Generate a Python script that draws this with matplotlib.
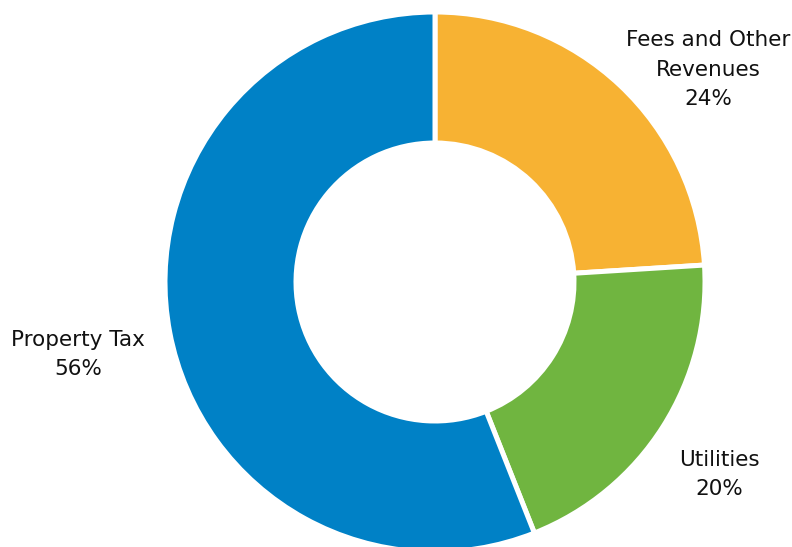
import matplotlib.pyplot as plt

labels = ['Fees and Other\nRevenues', 'Utilities', 'Property Tax']
shares = [24, 20, 56]
colors = ['#F7B233', '#70B540', '#0081C6']

# label anchors in pixels: centre x, baseline of the last line (from top)
label_pos = [(708, 105), (719, 495), (78, 375)]

W, H = 792, 547
fig = plt.figure(figsize=(W / 100, H / 100), dpi=100)
ax = fig.add_axes([0, 0, 1, 1])

cx, cy, r_out, r_in = 435, H - 282, 270, 139
ax.pie(shares, colors=colors, startangle=90, counterclock=False,
       center=(cx, cy), radius=r_out, frame=True,
       wedgeprops=dict(width=r_out - r_in, edgecolor='white', linewidth=3.6))
ax.set_xlim(0, W)
ax.set_ylim(0, H)
ax.set_aspect('equal')
ax.axis('off')

for lab, val, (x, y) in zip(labels, shares, label_pos):
    ax.text(x, H - y, f'{lab}\n{val}%', ha='center', va='baseline',
            multialignment='center', fontsize=15.5, family='DejaVu Sans',
            linespacing=1.58, color='#111111')

fig.savefig('out.png', dpi=100)
